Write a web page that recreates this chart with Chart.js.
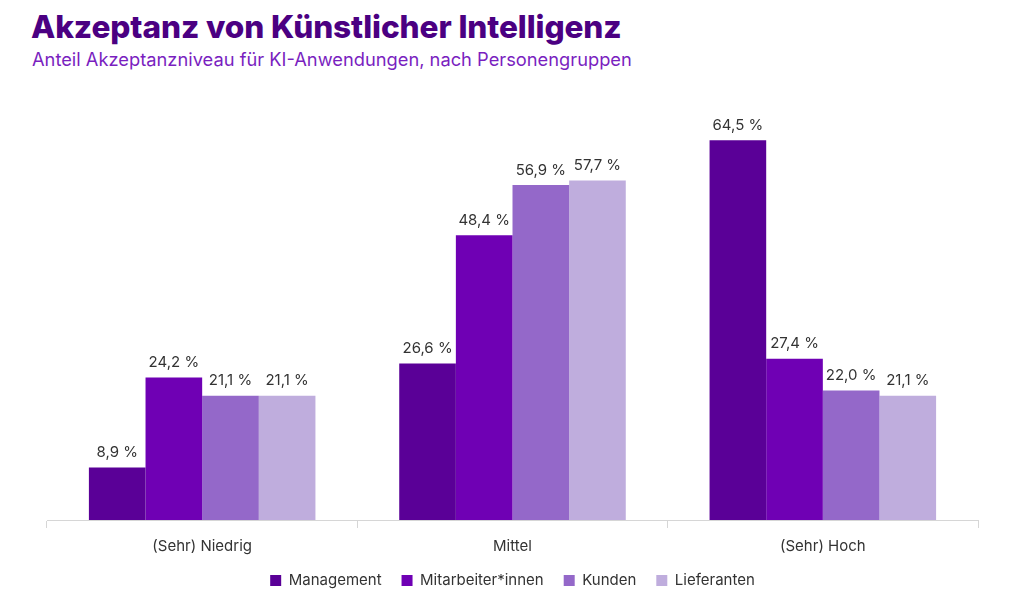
<!DOCTYPE html>
<html>
<head>
<meta charset="utf-8">
<script src="https://cdn.jsdelivr.net/npm/chart.js@4"></script>
<style>
  html, body { margin: 0; padding: 0; background: #fff; }
  body { width: 1024px; height: 602px; position: relative; overflow: hidden; font-family: Inter, "Noto Sans", sans-serif; }
  h1 { position: absolute; left: 31px; top: 7px; margin: 0; font-size: 31.6px; font-weight: 800; color: #4b0082; letter-spacing: -0.1px; }
  h2 { position: absolute; left: 32px; top: 48px; margin: 0; font-size: 18.3px; font-weight: 400; color: #7a1fbf; }
  #wrap { position: absolute; left: 0; top: 0; width: 1024px; height: 602px; }
</style>
</head>
<body>
<h1>Akzeptanz von Künstlicher Intelligenz</h1>
<h2>Anteil Akzeptanzniveau für KI-Anwendungen, nach Personengruppen</h2>
<div id="wrap"><canvas id="chart"></canvas></div>
<script>
// Kategorien und Werte (in %)
const categories = ['(Sehr) Niedrig', 'Mittel', '(Sehr) Hoch'];
const management = [8.9, 26.6, 64.5];
const mitarbeiter = [24.2, 48.4, 27.4];
const kunden = [21.1, 56.9, 22.0];
const lieferanten = [21.1, 57.7, 21.1];

const fmt = v => v.toFixed(1).replace('.', ',') + ' %';

// Werte über den Balken
const valueLabels = {
    id: 'valueLabels',
    afterLayout(chart) {
        // Achsenbeschriftung nicht abschneiden
        chart.scales.x.bottom += 11;
    },
    afterDatasetsDraw(chart) {
        const ctx = chart.ctx;
        ctx.save();
        ctx.font = '15px Inter, "Noto Sans", sans-serif';
        ctx.fillStyle = '#333333';
        ctx.textAlign = 'center';
        ctx.textBaseline = 'middle';
        chart.data.datasets.forEach((ds, i) => {
            chart.getDatasetMeta(i).data.forEach((bar, j) => {
                ctx.fillText(fmt(ds.data[j]), bar.x, bar.y - 15);
            });
        });
        ctx.restore();
    }
};

new Chart(document.getElementById('chart'), {
    type: 'bar',
    data: {
        labels: categories,
        datasets: [
            { label: 'Management', data: management, backgroundColor: '#5a0097' },
            { label: 'Mitarbeiter*innen', data: mitarbeiter, backgroundColor: '#6f00b4' },
            { label: 'Kunden', data: kunden, backgroundColor: '#9468c9' },
            { label: 'Lieferanten', data: lieferanten, backgroundColor: '#bfaddd' }
        ]
    },
    options: {
        responsive: true,
        maintainAspectRatio: false,
        animation: false,
        layout: { padding: { left: 47, right: 46, top: 108, bottom: 4 } },
        datasets: { bar: { categoryPercentage: 0.73, barPercentage: 1 } },
        scales: {
            x: {
                grid: { drawOnChartArea: false, tickLength: 8, color: '#d6d6d6', offset: true },
                border: { color: '#d6d6d6' },
                ticks: { color: '#333333', padding: 9, font: { family: 'Inter, "Noto Sans", sans-serif', size: 15 } },
                afterFit(scale) { scale.height -= 11; }
            },
            y: {
                display: false,
                min: 0,
                max: 70
            }
        },
        plugins: {
            legend: {
                position: 'bottom',
                labels: {
                    boxWidth: 11,
                    boxHeight: 11,
                    padding: 20,
                    color: '#333333',
                    font: { family: 'Inter, "Noto Sans", sans-serif', size: 15 }
                }
            },
            tooltip: { enabled: false }
        }
    },
    plugins: [valueLabels]
});
</script>
</body>
</html>
